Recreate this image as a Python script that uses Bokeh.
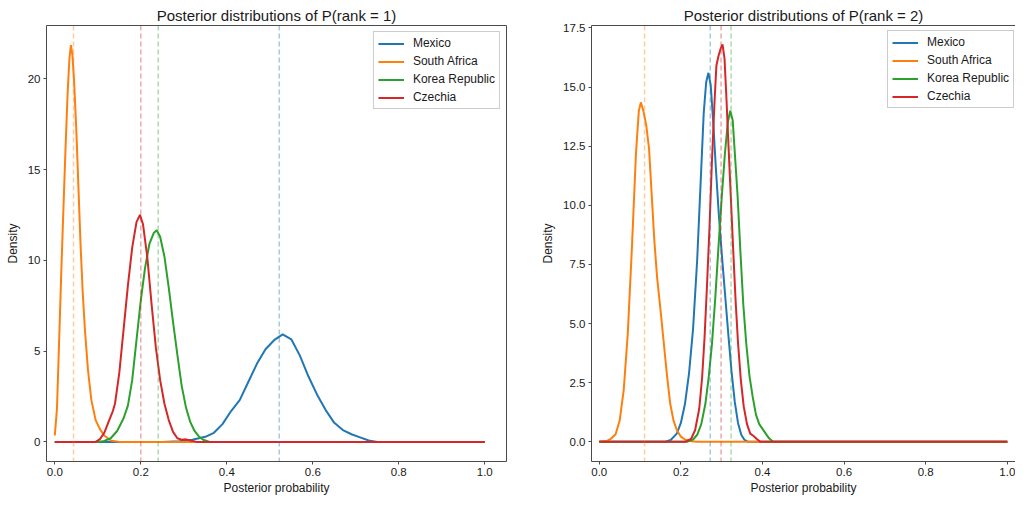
from bokeh.plotting import figure
from bokeh.layouts import row
from bokeh.models import Range1d, FixedTicker, PrintfTickFormatter, Span, Legend, LegendItem, LinearAxis
from bokeh.embed import file_html
from bokeh.resources import INLINE

FONT = "Liberation Sans"

teams = ["Mexico", "South Africa", "Korea Republic", "Czechia"]
colors = ["#1f77b4", "#ff7f0e", "#2ca02c", "#d62728"]

# ---------------- P(rank = 1) ----------------
r1_mexico_x = [0, 0.25, 0.29, 0.32, 0.35, 0.37, 0.39, 0.41, 0.43, 0.45, 0.47, 0.49, 0.51, 0.53,
               0.55, 0.57, 0.59, 0.61, 0.63, 0.65, 0.67, 0.69, 0.71, 0.73, 0.75, 1.0]
r1_mexico_y = [0, 0, 0.03, 0.12, 0.28, 0.5, 0.98, 1.7, 2.3, 3.3, 4.3, 5.1, 5.6, 5.92,
               5.65, 4.75, 3.6, 2.6, 1.75, 1.05, 0.65, 0.42, 0.25, 0.08, 0, 0]

r1_safrica_x = [0, 0.005, 0.01, 0.015, 0.02, 0.025, 0.03, 0.034, 0.0375, 0.041, 0.045, 0.05,
                0.055, 0.06, 0.065, 0.07, 0.077, 0.085, 0.095, 0.105, 0.115, 0.13, 0.15, 1.0]
r1_safrica_y = [0.35, 1.8, 5.5, 9.3, 12.8, 16.2, 19.3, 21.1, 21.85, 21.3, 19.8, 17.2,
                14.0, 10.8, 8.2, 6.2, 4.0, 2.3, 1.2, 0.7, 0.35, 0.08, 0.0, 0.0]

r1_korea_x = [0, 0.1, 0.115, 0.13, 0.145, 0.16, 0.17, 0.18, 0.19, 0.2, 0.21, 0.22, 0.23, 0.237,
              0.245, 0.255, 0.265, 0.275, 0.285, 0.295, 0.305, 0.315, 0.325, 0.335, 0.345, 0.36, 1.0]
r1_korea_y = [0, 0, 0.05, 0.2, 0.6, 1.3, 2.0, 3.4, 5.6, 7.8, 9.6, 10.9, 11.5, 11.65,
              11.3, 10.2, 8.5, 6.6, 4.8, 3.1, 1.9, 1.1, 0.6, 0.3, 0.12, 0, 0]

r1_czechia_x = [0, 0.095, 0.105, 0.115, 0.125, 0.135, 0.14, 0.15, 0.16, 0.17, 0.18, 0.19, 0.198,
                0.205, 0.215, 0.225, 0.235, 0.245, 0.255, 0.265, 0.275, 0.285, 0.295, 0.305,
                0.315, 0.33, 1.0]
r1_czechia_y = [0, 0, 0.15, 0.5, 1.1, 1.7, 2.1, 3.8, 6.2, 8.6, 10.7, 12.1, 12.5,
                12.0, 10.2, 7.6, 5.2, 3.4, 2.1, 1.2, 0.55, 0.2, 0.12, 0.14,
                0.08, 0.0, 0]

r1_means = [0.522, 0.0435, 0.2405, 0.2]

# ---------------- P(rank = 2) ----------------
r2_mexico_x = [0, 0.16, 0.175, 0.19, 0.2, 0.21, 0.22, 0.23, 0.24, 0.248, 0.256, 0.262, 0.2675,
               0.273, 0.279, 0.286, 0.293, 0.3, 0.308, 0.316, 0.324, 0.332, 0.34, 0.348, 0.356,
               0.365, 1.0]
r2_mexico_y = [0, 0, 0.08, 0.35, 0.8, 1.6, 2.9, 4.8, 7.7, 10.8, 13.9, 15.2, 15.6,
               15.1, 13.6, 11.5, 9.6, 8.0, 6.3, 4.6, 3.0, 1.7, 0.8, 0.3, 0.08,
               0, 0]

r2_safrica_x = [0, 0.02, 0.03, 0.04, 0.05, 0.06, 0.07, 0.08, 0.09, 0.097, 0.102, 0.108, 0.115,
                0.122, 0.128, 0.135, 0.142, 0.15, 0.158, 0.166, 0.174, 0.182, 0.19, 0.2, 0.21,
                0.225, 0.24, 1.0]
r2_safrica_y = [0, 0.05, 0.15, 0.32, 0.9, 2.2, 4.6, 8.2, 12.2, 14.0, 14.35, 14.0, 13.4,
                12.4, 10.6, 8.5, 6.9, 5.6, 4.2, 2.8, 1.6, 0.9, 0.5, 0.22, 0.1,
                0.03, 0, 0]

r2_korea_x = [0, 0.215, 0.23, 0.24, 0.25, 0.26, 0.268, 0.276, 0.284, 0.292, 0.3, 0.308, 0.315,
              0.321, 0.327, 0.333, 0.339, 0.346, 0.353, 0.36, 0.368, 0.376, 0.384, 0.392, 0.4,
              0.408, 0.416, 0.426, 1.0]
r2_korea_y = [0, 0, 0.1, 0.3, 0.75, 1.6, 2.7, 4.1, 6.0, 8.2, 10.3, 12.2, 13.5,
              14.0, 13.6, 12.0, 10.4, 8.0, 5.8, 4.2, 2.8, 1.9, 1.15, 0.75, 0.55,
              0.35, 0.15, 0, 0]

r2_czechia_x = [0, 0.21, 0.225, 0.235, 0.245, 0.252, 0.258, 0.264, 0.27, 0.276, 0.282, 0.287,
                0.292, 0.297, 0.302, 0.307, 0.312, 0.317, 0.322, 0.328, 0.334, 0.34, 0.347,
                0.354, 0.362, 0.37, 0.378, 0.386, 0.395, 1.0]
r2_czechia_y = [0, 0, 0.12, 0.5, 1.4, 2.7, 4.4, 6.6, 9.0, 11.8, 14.2, 15.9,
                16.3, 16.6, 16.8, 16.2, 14.4, 12.4, 10.5, 8.2, 6.0, 4.2, 2.6,
                1.5, 0.75, 0.35, 0.25, 0.12, 0, 0]

r2_means = [0.272, 0.111, 0.323, 0.2985]

x_ticks = [0.0, 0.2, 0.4, 0.6, 0.8, 1.0]
r1_y_ticks = [0, 5, 10, 15, 20]
r2_y_ticks = [0.0, 2.5, 5.0, 7.5, 10.0, 12.5, 15.0, 17.5]

titles = ["Posterior distributions of P(rank = 1)", "Posterior distributions of P(rank = 2)"]
x_label = "Posterior probability"
y_label = "Density"

r1_series = [(r1_mexico_x, r1_mexico_y), (r1_safrica_x, r1_safrica_y),
             (r1_korea_x, r1_korea_y), (r1_czechia_x, r1_czechia_y)]
r2_series = [(r2_mexico_x, r2_mexico_y), (r2_safrica_x, r2_safrica_y),
             (r2_korea_x, r2_korea_y), (r2_czechia_x, r2_czechia_y)]

SPINE = "#4a4a4a"
TXT = "#1a1a1a"
HEIGHT = 497


def style_axis(ax, ticks, fmt):
    ax.ticker = FixedTicker(ticks=ticks)
    ax.formatter = PrintfTickFormatter(format=fmt)
    ax.major_label_text_font = FONT
    ax.major_label_text_font_size = "11.5px"
    ax.major_label_text_color = TXT
    ax.axis_label_text_font = FONT
    ax.axis_label_text_font_size = "12px"
    ax.axis_label_text_font_style = "normal"
    ax.axis_label_text_color = TXT
    ax.major_tick_in = 0
    ax.major_tick_out = 3
    ax.major_tick_line_color = SPINE
    ax.minor_tick_line_color = None
    ax.major_label_standoff = 3


def make_fig(title, series, means, yticks, yfmt, xr, yr, width, bl, br, legend_loc, outline):
    p = figure(width=width, height=HEIGHT, output_backend="svg", toolbar_location=None,
               x_range=Range1d(*xr), y_range=Range1d(*yr),
               min_border_left=bl, min_border_right=br, min_border_top=25, min_border_bottom=34,
               background_fill_color="white", border_fill_color="white")
    p.grid.visible = False
    p.title.text = title
    p.title.text_font = FONT
    p.title.text_font_size = "15px"
    p.title.text_font_style = "normal"
    p.title.text_color = TXT
    p.title.align = "center"
    p.title.standoff = 3

    style_axis(p.xaxis[0], x_ticks, "%.1f")
    style_axis(p.yaxis[0], yticks, yfmt)
    p.xaxis.axis_label = x_label
    p.yaxis.axis_label = y_label
    p.xaxis.axis_label_standoff = 2
    p.yaxis.axis_label_standoff = 5

    if outline:
        p.outline_line_color = SPINE
        p.outline_line_width = 1
        p.xaxis.axis_line_color = None
        p.yaxis.axis_line_color = None
    else:
        p.outline_line_color = None
        p.xaxis.axis_line_color = SPINE
        p.yaxis.axis_line_color = SPINE
        top = LinearAxis(ticker=FixedTicker(ticks=[]), axis_line_color=SPINE,
                         major_tick_line_color=None, minor_tick_line_color=None,
                         major_label_text_font_size="0px")
        p.add_layout(top, "above")

    items = []
    for (xs, ys), name, c, m in zip(series, teams, colors, means):
        r = p.line(xs, ys, line_color=c, line_width=2)
        items.append(LegendItem(label=name, renderers=[r]))
        p.add_layout(Span(location=m, dimension="height", line_color=c, line_alpha=0.4,
                          line_width=1.5, line_dash="5 3"))

    legend = Legend(items=items, location=legend_loc, margin=6, padding=4, spacing=4,
                    glyph_width=26, glyph_height=13, label_height=13, label_standoff=9,
                    label_text_font=FONT, label_text_font_size="12px", label_text_color=TXT,
                    border_line_color="#cccccc", border_line_alpha=1.0,
                    background_fill_color="white", background_fill_alpha=0.8)
    p.add_layout(legend)
    return p


p1 = make_fig(titles[0], r1_series, r1_means, r1_y_ticks, "%d",
              (-0.0193, 1.0505), (-1.08, 22.93), 520, 46, 14, "top_right", True)
p2 = make_fig(titles[1], r2_series, r2_means, r2_y_ticks, "%.1f",
              (-0.019, 1.02), (-0.83, 17.6), 495, 71, 0, (296, 353), False)

layout = row(p1, p2)
open("out.html", "w").write(file_html(layout, INLINE))
